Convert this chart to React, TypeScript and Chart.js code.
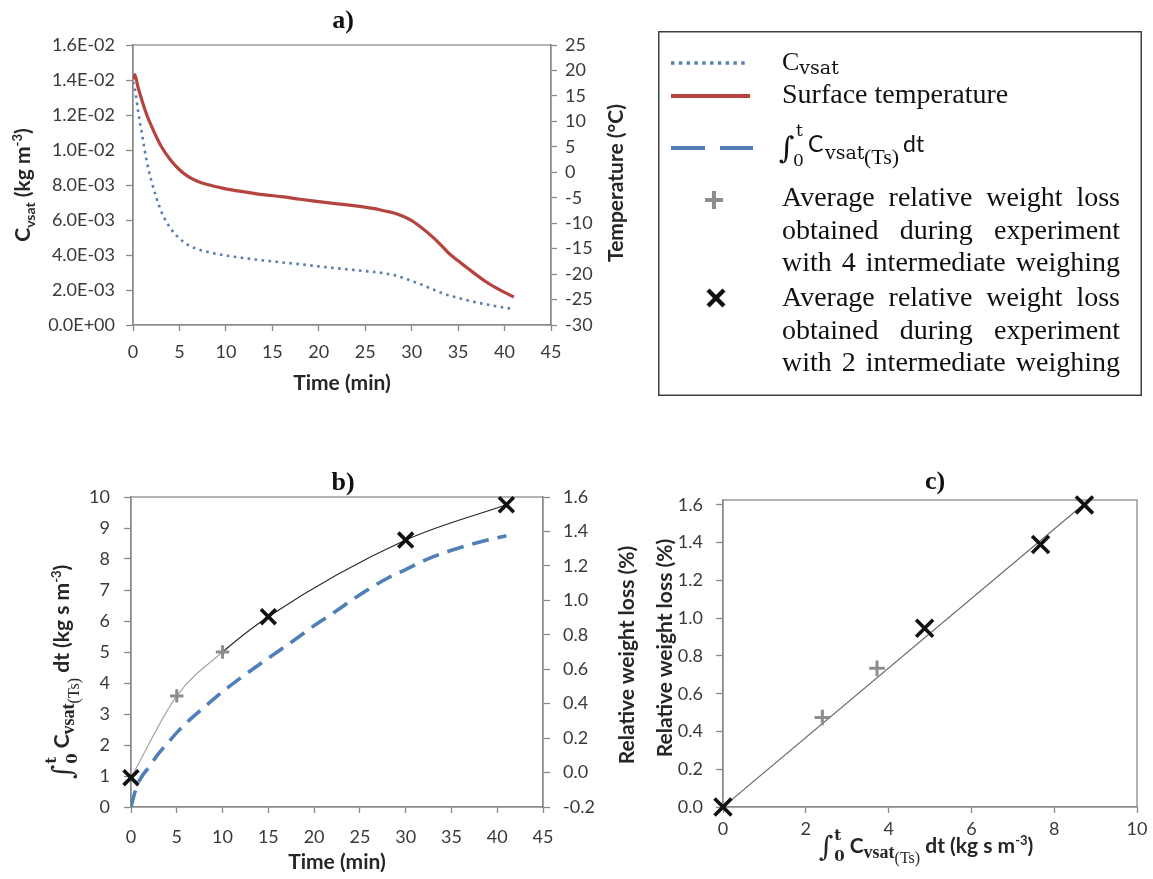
import React, { useEffect, useRef } from 'react';
import { Chart, registerables } from 'chart.js';

Chart.register(...registerables);

// ---------------- data ----------------
// a) time (min), surface temperature (°C), Cvsat (kg m-3)
const timeA = [0, 0.2, 0.5, 1, 1.5, 2, 3, 4, 5, 6, 7, 8, 10, 12, 14, 16, 18, 20, 22, 24, 26, 27, 28, 29, 30, 31, 32, 33, 34, 35, 36, 37, 38, 39, 40, 41];
const surfaceTemp = [18.3, 19.2, 17.0, 13.9, 11.2, 9.0, 5.2, 2.5, 0.5, -0.9, -1.8, -2.4, -3.25, -3.85, -4.4, -4.8, -5.3, -5.75, -6.2, -6.6, -7.15, -7.55, -7.95, -8.6, -9.5, -10.8, -12.3, -14.0, -15.9, -17.4, -18.8, -20.2, -21.5, -22.6, -23.6, -24.5];
const cvsat = [0.0139, 0.0135, 0.0124, 0.0108, 0.0093, 0.0082, 0.00655, 0.00555, 0.00495, 0.00455, 0.00433, 0.00418, 0.00397, 0.00382, 0.00369, 0.00358, 0.00347, 0.00335, 0.00324, 0.00313, 0.00303, 0.00296, 0.00286, 0.00271, 0.00252, 0.00232, 0.0021, 0.00188, 0.00169, 0.00155, 0.00141, 0.00129, 0.00118, 0.00108, 0.00099, 0.00091];

// b) time (min) and integral of Cvsat (kg s m-3)
const timeB = [0, 0.5, 1, 2, 3, 4, 5, 6, 8, 10, 12, 15, 18, 20, 22, 25, 28, 30, 32, 35, 38, 41];
const integralCvsat = [0, 0.55, 0.9, 1.3, 1.72, 2.06, 2.4, 2.7, 3.22, 3.72, 4.17, 4.8, 5.42, 5.85, 6.24, 6.85, 7.38, 7.66, 7.95, 8.28, 8.54, 8.75];

// weighings: time (min), marker type, relative weight loss (%) as read in b) and c)
const weighTimes = [0, 5, 10, 15, 30, 41];
const weighTypes = ['x', '+', '+', 'x', 'x', 'x'];
const weightLossB = [-0.03, 0.445, 0.70, 0.905, 1.35, 1.555];
const integralAtWeigh = [0, 2.4, 3.72, 4.87, 7.67, 8.73];
const weightLossC = [0, 0.474, 0.735, 0.947, 1.39, 1.60];
const trendX = [0, 8.75];
const trendY = [0, 1.61];

// legend texts
const legendPara1 = ['Average relative weight loss', 'obtained during experiment', 'with 4 intermediate weighing'];
const legendPara2 = ['Average relative weight loss', 'obtained during experiment', 'with 2 intermediate weighing'];

// ---------------- styles ----------------
const AXIS = '#8a8a8a';
const TICK_COLOR = '#3a3a3a';
const SANS = 'Lato, "Open Sans", sans-serif';
const SERIF = '"Liberation Serif", "Times New Roman", serif';
const MATH = '"DejaVu Serif", serif';
const TICK_FONT = { family: SANS, size: 18 };
const RED = '#b5443f';
const DOT_BLUE = '#5a7fae';
const DASH_BLUE = '#4f7fb8';
const PLUS_GRAY = '#8c8c8c';

function sci(v: number): string {
  if (Math.abs(v) < 1e-12) return '0.0E+00';
  const [m, e] = v.toExponential(1).split('e');
  const n = parseInt(e, 10);
  return `${m}E${n < 0 ? '-' : '+'}${String(Math.abs(n)).padStart(2, '0')}`;
}

function axis(tickLength: number, padding: number, extraTicks: any, fit: (s: any) => void, rest: any) {
  return {
    type: 'linear',
    border: { display: true, color: AXIS, width: 1.3 },
    grid: { display: true, drawOnChartArea: false, drawTicks: true, tickLength, color: AXIS, tickWidth: 1.3 },
    ticks: { color: TICK_COLOR, font: TICK_FONT, padding, autoSkip: false, ...extraTicks },
    afterFit: fit,
    ...rest,
  };
}

const framePlugin = {
  id: 'frame',
  beforeDatasetsDraw(chart: any) {
    const { ctx, chartArea } = chart;
    ctx.save();
    ctx.strokeStyle = AXIS;
    ctx.lineWidth = 1.3;
    ctx.strokeRect(chartArea.left, chartArea.top, chartArea.right - chartArea.left, chartArea.bottom - chartArea.top);
    ctx.restore();
  },
};

const pts = (xs: number[], ys: number[]) => xs.map((x, i) => ({ x, y: ys[i] }));
const pick = (xs: number[], ys: number[], type: string) =>
  xs.map((x, i) => ({ x, y: ys[i], t: weighTypes[i] })).filter((p) => p.t === type).map(({ x, y }) => ({ x, y }));

const baseOptions = (padding: any) => ({
  responsive: false,
  animation: false,
  events: [],
  layout: { padding },
  plugins: { legend: { display: false }, tooltip: { enabled: false }, title: { display: false } },
});

function markerSets(xs: number[], ys: number[], axisId: string, plusR: number, xR: number) {
  return [
    {
      label: '4 intermediate weighing', data: pick(xs, ys, '+'), yAxisID: axisId, showLine: false,
      pointStyle: 'cross', pointRadius: plusR, pointHoverRadius: plusR, pointBorderWidth: 3,
      borderColor: PLUS_GRAY, backgroundColor: PLUS_GRAY, clip: false,
    },
    {
      label: '2 intermediate weighing', data: pick(xs, ys, 'x'), yAxisID: axisId, showLine: false,
      pointStyle: 'crossRot', pointRadius: xR, pointHoverRadius: xR, pointBorderWidth: 3.6,
      borderColor: '#111', backgroundColor: '#111', clip: false,
    },
  ];
}

export default function App() {
  const refA = useRef<HTMLCanvasElement>(null);
  const refB = useRef<HTMLCanvasElement>(null);
  const refC = useRef<HTMLCanvasElement>(null);

  useEffect(() => {
    const charts: Chart[] = [];

    // ---- a) ----
    charts.push(new Chart(refA.current as HTMLCanvasElement, {
      type: 'scatter',
      data: {
        datasets: [
          {
            label: 'Cvsat', data: pts(timeA, cvsat), yAxisID: 'y', showLine: true, pointRadius: 0, pointHoverRadius: 0,
            borderColor: DOT_BLUE, borderWidth: 2.6, borderDash: [2.6, 4.4], cubicInterpolationMode: 'monotone',
          },
          {
            label: 'Surface temperature', data: pts(timeA, surfaceTemp), yAxisID: 'y1', showLine: true, pointRadius: 0, pointHoverRadius: 0,
            borderColor: RED, borderWidth: 3.2, cubicInterpolationMode: 'monotone',
          },
        ],
      } as any,
      options: {
        ...baseOptions({ top: 45, left: 0, right: 0, bottom: 0 }),
        scales: {
          x: axis(6, 10, { stepSize: 5 }, (s) => { s.height = 75; }, { position: 'bottom', min: 0, max: 45 }),
          y: axis(7, 11, { stepSize: 0.002, callback: (v: any) => sci(Number(v)) }, (s) => { s.width = 133; }, { position: 'left', min: 0, max: 0.016 }),
          y1: axis(6, 8, { stepSize: 5 }, (s) => { s.width = 109; }, { position: 'right', min: -30, max: 25 }),
        },
      } as any,
      plugins: [framePlugin],
    }));

    // ---- b) ----
    charts.push(new Chart(refB.current as HTMLCanvasElement, {
      type: 'scatter',
      data: {
        datasets: [
          ...markerSets(weighTimes, weightLossB, 'y1', 6.7, 10.5),
          {
            label: 'weight loss', data: pts(weighTimes, weightLossB), yAxisID: 'y1', showLine: true, pointRadius: 0, pointHoverRadius: 0,
            borderWidth: 1.2, borderColor: '#262626', cubicInterpolationMode: 'monotone',
            segment: { borderColor: (ctx: any) => (ctx.p1DataIndex <= 2 ? '#a6a6a6' : '#262626') },
          },
          {
            label: 'integral', data: pts(timeB, integralCvsat), yAxisID: 'y', showLine: true, pointRadius: 0, pointHoverRadius: 0,
            borderColor: DASH_BLUE, borderWidth: 3.6, borderDash: [17, 9], cubicInterpolationMode: 'monotone',
          },
        ],
      } as any,
      options: {
        ...baseOptions({ top: 57, left: 0, right: 0, bottom: 0 }),
        scales: {
          x: axis(6, 13, { stepSize: 5 }, (s) => { s.height = 72; }, { position: 'bottom', min: 0, max: 45 }),
          y: axis(7, 14, { stepSize: 1 }, (s) => { s.width = 131; }, { position: 'left', min: 0, max: 10 }),
          y1: axis(7, 13, { stepSize: 0.2, callback: (v: any) => Number(v).toFixed(1) }, (s) => { s.width = 77; }, { position: 'right', min: -0.2, max: 1.6 }),
        },
      } as any,
      plugins: [framePlugin],
    }));

    // ---- c) ----
    charts.push(new Chart(refC.current as HTMLCanvasElement, {
      type: 'scatter',
      data: {
        datasets: [
          ...markerSets(integralAtWeigh, weightLossC, 'y', 7.8, 12),
          {
            label: 'trend', data: pts(trendX, trendY), yAxisID: 'y', showLine: true, pointRadius: 0, pointHoverRadius: 0,
            borderColor: '#6e6e6e', borderWidth: 1.2,
          },
        ],
      } as any,
      options: {
        ...baseOptions({ top: 60, left: 0, right: 16, bottom: 0 }),
        scales: {
          x: axis(6, 5, { stepSize: 2 }, (s) => { s.height = 72; }, { position: 'bottom', min: 0, max: 10 }),
          y: axis(7, 13, { stepSize: 0.2, includeBounds: false, callback: (v: any) => Number(v).toFixed(1) }, (s) => { s.width = 103; }, { position: 'left', min: 0, max: 1.626 }),
        },
      } as any,
      plugins: [framePlugin],
    }));

    return () => charts.forEach((c) => c.destroy());
  }, []);

  const rot = (cx: number, cy: number) => `translate(${cx},${cy}) rotate(-90)`;

  const axisIntegral = (
    [
      <tspan key="i" fontFamily={MATH} fontWeight={400} fontSize={28} dy={3}>∫</tspan>,
      <tspan key="t" fontFamily={MATH} fontWeight={700} fontSize={15} dx={1} dy={-16}>t</tspan>,
      <tspan key="0" fontFamily={MATH} fontWeight={700} fontSize={15} dx={-7} dy={21}>0</tspan>,
      <tspan key="C" dx={5} dy={-8}>C</tspan>,
      <tspan key="v" fontFamily={SERIF} fontSize={18} dy={5}>vsat</tspan>,
      <tspan key="ts" fontFamily={SERIF} fontWeight={400} fontSize={16} dy={5}>(Ts)</tspan>,
      <tspan key="d" dy={-10}> dt (kg s m</tspan>,
      <tspan key="e" fontSize={13} dy={-8}>-3</tspan>,
      <tspan key="p" dy={8}>)</tspan>,
    ]
  );

  return (
    <div style={{ position: 'absolute', left: 0, top: 0, width: 1153, height: 879, background: '#fff', overflow: 'hidden' }}>
      <canvas ref={refA} width={660} height={400} style={{ position: 'absolute', left: 0, top: 0, width: 660, height: 400 }} />
      <canvas ref={refB} width={620} height={439} style={{ position: 'absolute', left: 0, top: 440, width: 620, height: 439 }} />
      <canvas ref={refC} width={533} height={439} style={{ position: 'absolute', left: 620, top: 440, width: 533, height: 439 }} />

      <svg width={1153} height={879} style={{ position: 'absolute', left: 0, top: 0, pointerEvents: 'none' }}>
        {/* panel titles */}
        <g fontFamily={SERIF} fontWeight="bold" fontSize={26} fill="#111" textAnchor="middle">
          <text x={343} y={28}>a)</text>
          <text x={343} y={490}>b)</text>
          <text x={935} y={489}>c)</text>
        </g>

        {/* axis titles */}
        <g fontFamily={SANS} fontWeight="bold" fontSize={21} fill="#262626">
          <text x={342} y={390} textAnchor="middle">Time (min)</text>
          <text x={337} y={869} textAnchor="middle">Time (min)</text>
          <text transform={rot(23, 185)} y={7} textAnchor="middle">
            C<tspan fontSize={14} dy={5}>vsat</tspan><tspan dy={-5}> (kg m</tspan><tspan fontSize={13} dy={-8}>-3</tspan><tspan dy={8}>)</tspan>
          </text>
          <text transform={rot(616, 183)} y={7} textAnchor="middle">Temperature (°C)</text>
          <text transform={rot(627, 655)} y={7} textAnchor="middle">Relative weight loss (%)</text>
          <text transform={rot(665, 648)} y={7} textAnchor="middle">Relative weight loss (%)</text>
          <text transform={rot(62, 672)} y={7} textAnchor="middle">{axisIntegral}</text>
          <text x={926} y={853} textAnchor="middle">{axisIntegral}</text>
        </g>

        {/* legend box */}
        <rect x={658.75} y={31.75} width={482.5} height={363.5} fill="none" stroke="#404040" strokeWidth={1.5} />
        <line x1={671} x2={749} y1={63} y2={63} stroke={DOT_BLUE} strokeWidth={3.5} strokeDasharray="3.5 4.3" />
        <line x1={671} x2={750} y1={96} y2={96} stroke={RED} strokeWidth={4} />
        <line x1={671} x2={753} y1={148} y2={148} stroke={DASH_BLUE} strokeWidth={4} strokeDasharray="34 15" />
        <g stroke={PLUS_GRAY} strokeWidth={4}>
          <line x1={705} x2={723} y1={200} y2={200} />
          <line x1={714} x2={714} y1={191} y2={209} />
        </g>
        <g stroke="#111" strokeWidth={4.5}>
          <line x1={708} x2={724} y1={290} y2={306} />
          <line x1={708} x2={724} y1={306} y2={290} />
        </g>
        <g fill="#111">
          <text x={782} y={70}>
            <tspan fontFamily={SERIF} fontSize={26}>C</tspan>
            <tspan fontFamily={MATH} fontSize={19} dy={4}>vsat</tspan>
          </text>
          <text x={782} y={103} fontFamily={SERIF} fontSize={28}>Surface temperature</text>
          <text>
            <tspan x={779} y={158} fontFamily={MATH} fontSize={30}>∫</tspan>
            <tspan x={796} y={136} fontFamily={MATH} fontSize={17}>t</tspan>
            <tspan x={793} y={166} fontFamily={MATH} fontSize={17}>0</tspan>
            <tspan x={808} y={152} fontFamily={SANS} fontSize={23}>C</tspan>
            <tspan x={825} y={159} fontFamily={MATH} fontSize={19}>vsat</tspan>
            <tspan x={864} y={164} fontFamily={SERIF} fontSize={22}>(Ts)</tspan>
            <tspan x={903} y={152} fontFamily={SANS} fontSize={23}>dt</tspan>
          </text>
        </g>
      </svg>

      {legendPara1.map((line, i) => (
        <div key={'p1' + i} style={{ position: 'absolute', left: 782, top: 181.3 + i * 32.5, width: 338, fontFamily: SERIF, fontSize: 28, lineHeight: '32.5px', color: '#111', textAlign: 'justify', textAlignLast: 'justify' as any }}>{line}</div>
      ))}
      {legendPara2.map((line, i) => (
        <div key={'p2' + i} style={{ position: 'absolute', left: 782, top: 281.3 + i * 32.5, width: 338, fontFamily: SERIF, fontSize: 28, lineHeight: '32.5px', color: '#111', textAlign: 'justify', textAlignLast: 'justify' as any }}>{line}</div>
      ))}
    </div>
  );
}
